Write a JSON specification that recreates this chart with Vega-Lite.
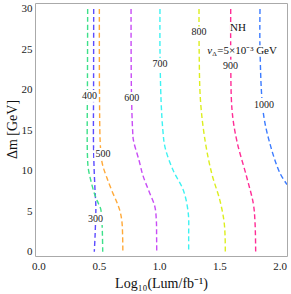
{
  "$schema": "https://vega.github.io/schema/vega-lite/v6.json",
  "autosize": {"type": "none"},
  "padding": {"left": 35, "top": 3, "right": 4, "bottom": 38},
  "width": 252,
  "height": 253,
  "background": "white",
  "view": {"stroke": "#aaaaaa", "strokeWidth": 1},
  "datasets": {
    "contours": [
      {"mass": 300, "dm": 30, "lum": 0.458}, {"mass": 300, "dm": 20, "lum": 0.457}, {"mass": 300, "dm": 13.8, "lum": 0.456}, {"mass": 300, "dm": 10.5, "lum": 0.461}, {"mass": 300, "dm": 7.6, "lum": 0.469}, {"mass": 300, "dm": 5.5, "lum": 0.476}, {"mass": 300, "dm": 3.5, "lum": 0.473}, {"mass": 300, "dm": 1.8, "lum": 0.469}, {"mass": 300, "dm": 0, "lum": 0.463},
      {"mass": 400, "dm": 30, "lum": 0.408}, {"mass": 400, "dm": 20, "lum": 0.406}, {"mass": 400, "dm": 14, "lum": 0.404}, {"mass": 400, "dm": 12, "lum": 0.406}, {"mass": 400, "dm": 10.3, "lum": 0.413}, {"mass": 400, "dm": 8.4, "lum": 0.441}, {"mass": 400, "dm": 7, "lum": 0.468}, {"mass": 400, "dm": 6, "lum": 0.496}, {"mass": 400, "dm": 5.3, "lum": 0.516}, {"mass": 400, "dm": 4, "lum": 0.525}, {"mass": 400, "dm": 2.9, "lum": 0.529}, {"mass": 400, "dm": 0, "lum": 0.533},
      {"mass": 500, "dm": 30, "lum": 0.505}, {"mass": 500, "dm": 20, "lum": 0.506}, {"mass": 500, "dm": 13.5, "lum": 0.512}, {"mass": 500, "dm": 11.3, "lum": 0.524}, {"mass": 500, "dm": 10.4, "lum": 0.538}, {"mass": 500, "dm": 9.2, "lum": 0.566}, {"mass": 500, "dm": 7.6, "lum": 0.607}, {"mass": 500, "dm": 5.9, "lum": 0.656}, {"mass": 500, "dm": 4.8, "lum": 0.68}, {"mass": 500, "dm": 3.6, "lum": 0.693}, {"mass": 500, "dm": 2, "lum": 0.698}, {"mass": 500, "dm": 0, "lum": 0.7},
      {"mass": 600, "dm": 30, "lum": 0.768}, {"mass": 600, "dm": 20, "lum": 0.771}, {"mass": 600, "dm": 15, "lum": 0.781}, {"mass": 600, "dm": 13.75, "lum": 0.788}, {"mass": 600, "dm": 11.3, "lum": 0.834}, {"mass": 600, "dm": 9.4, "lum": 0.867}, {"mass": 600, "dm": 7.6, "lum": 0.913}, {"mass": 600, "dm": 5.6, "lum": 0.965}, {"mass": 600, "dm": 3.8, "lum": 0.978}, {"mass": 600, "dm": 2, "lum": 0.98}, {"mass": 600, "dm": 0, "lum": 0.981},
      {"mass": 700, "dm": 30, "lum": 1.008}, {"mass": 700, "dm": 25, "lum": 1.008}, {"mass": 700, "dm": 18.7, "lum": 1.017}, {"mass": 700, "dm": 15, "lum": 1.032}, {"mass": 700, "dm": 12.9, "lum": 1.05}, {"mass": 700, "dm": 10, "lum": 1.119}, {"mass": 700, "dm": 7.6, "lum": 1.202}, {"mass": 700, "dm": 4.7, "lum": 1.243}, {"mass": 700, "dm": 2, "lum": 1.246}, {"mass": 700, "dm": 0, "lum": 1.246},
      {"mass": 800, "dm": 30, "lum": 1.332}, {"mass": 800, "dm": 25, "lum": 1.333}, {"mass": 800, "dm": 18.7, "lum": 1.344}, {"mass": 800, "dm": 13.75, "lum": 1.382}, {"mass": 800, "dm": 9.7, "lum": 1.437}, {"mass": 800, "dm": 6.3, "lum": 1.506}, {"mass": 800, "dm": 3.8, "lum": 1.539}, {"mass": 800, "dm": 2, "lum": 1.548}, {"mass": 800, "dm": 0, "lum": 1.55},
      {"mass": 900, "dm": 30, "lum": 1.595}, {"mass": 900, "dm": 25, "lum": 1.595}, {"mass": 900, "dm": 17.5, "lum": 1.606}, {"mass": 900, "dm": 13.75, "lum": 1.645}, {"mass": 900, "dm": 9.2, "lum": 1.728}, {"mass": 900, "dm": 5.9, "lum": 1.783}, {"mass": 900, "dm": 3.5, "lum": 1.797}, {"mass": 900, "dm": 0, "lum": 1.802},
      {"mass": 1000, "dm": 30, "lum": 1.838}, {"mass": 1000, "dm": 25, "lum": 1.838}, {"mass": 1000, "dm": 17.1, "lum": 1.866}, {"mass": 1000, "dm": 12.9, "lum": 1.929}, {"mass": 1000, "dm": 9.7, "lum": 2.004}, {"mass": 1000, "dm": 8.3, "lum": 2.062}
    ],
    "labels": [
      {"mass": 300, "lum": 0.473, "dm": 4.04},
      {"mass": 400, "lum": 0.423, "dm": 19.25},
      {"mass": 500, "lum": 0.535, "dm": 12.08},
      {"mass": 600, "lum": 0.773, "dm": 19.0},
      {"mass": 700, "lum": 1.008, "dm": 23.2},
      {"mass": 800, "lum": 1.332, "dm": 27.1},
      {"mass": 900, "lum": 1.593, "dm": 23.0},
      {"mass": 1000, "lum": 1.871, "dm": 18.1}
    ],
    "notes": [
      {"t": "NH", "lum": 1.655, "dm": 27.65},
      {"t": "v", "lum": 1.4, "dm": 24.85}
    ]
  },
  "layer": [
    {
      "data": {"name": "contours"},
      "mark": {"type": "line", "strokeDash": [5, 3], "strokeWidth": 1.4, "clip": true, "interpolate": "catmull-rom"},
      "encoding": {
        "x": {"field": "lum", "type": "quantitative", "scale": {"domain": [-0.029, 2.062], "nice": false, "zero": false},
          "axis": {"orient": "bottom", "values": [0, 0.1, 0.2, 0.3, 0.4, 0.5, 0.6, 0.7, 0.8, 0.9, 1, 1.1, 1.2, 1.3, 1.4, 1.5, 1.6, 1.7, 1.8, 1.9, 2],
            "domain": false, "grid": false, "ticks": true, "tickSize": 0, "tickColor": "#999999", "tickWidth": 0.8,
            "labelExpr": "abs(round(datum.value*2)-datum.value*2)<0.001 ? format(datum.value,'.1f') : ''",
            "labelFont": "Liberation Serif", "labelFontSize": 11, "labelColor": "#222222", "labelPadding": 4, "labelOverlap": false, "labelFlush": false,
            "title": "Log₁₀(Lum/fb⁻¹)", "titleFont": "Liberation Serif", "titleFontSize": 14, "titleFontWeight": "normal", "titleColor": "#111111",
            "titleX": 126, "titleY": 20, "titleBaseline": "top",
            "encode": {"ticks": {"update": {"y2": {"signal": "abs(round(datum.value*2)-datum.value*2)<0.001 ? -5 : -2.5"}}}}}},
        "y": {"field": "dm", "type": "quantitative", "scale": {"domain": [-0.53, 30.74], "nice": false, "zero": false},
          "axis": {"orient": "left", "values": [0, 1, 2, 3, 4, 5, 6, 7, 8, 9, 10, 11, 12, 13, 14, 15, 16, 17, 18, 19, 20, 21, 22, 23, 24, 25, 26, 27, 28, 29, 30],
            "domain": false, "grid": false, "ticks": true, "tickSize": 0, "tickColor": "#999999", "tickWidth": 0.8,
            "labelExpr": "abs(round(datum.value/5)*5-datum.value)<0.001 ? format(datum.value,'d') : ''",
            "labelFont": "Liberation Serif", "labelFontSize": 11, "labelColor": "#222222", "labelPadding": 3, "labelOverlap": false, "labelFlush": false,
            "title": "Δm [GeV]", "titleFont": "Liberation Serif", "titleFontSize": 14, "titleFontWeight": "normal", "titleColor": "#111111",
            "titleX": -23, "titleY": 126, "titleBaseline": "middle", "titleAngle": 270,
            "encode": {"ticks": {"update": {"x2": {"signal": "abs(round(datum.value/5)*5-datum.value)<0.001 ? 5 : 2.5"}}}}}},
        "color": {"field": "mass", "type": "nominal", "legend": null,
          "scale": {"domain": [300, 400, 500, 600, 700, 800, 900, 1000], "range": ["#5b4bff", "#3de08a", "#ffa938", "#c84cf5", "#3ef2f2", "#dcee1e", "#ff2d96", "#3b7bff"]}},
        "detail": {"field": "mass", "type": "nominal"},
        "order": {"field": "dm", "type": "quantitative", "sort": "descending"}
      }
    },
    {
      "data": {"name": "labels"},
      "mark": {"type": "point", "shape": "M-1,-0.7H1V0.7H-1Z", "filled": true, "fill": "white", "stroke": null, "opacity": 1},
      "encoding": {
        "x": {"field": "lum", "type": "quantitative",
          "axis": {"orient": "top", "values": [0, 0.1, 0.2, 0.3, 0.4, 0.5, 0.6, 0.7, 0.8, 0.9, 1, 1.1, 1.2, 1.3, 1.4, 1.5, 1.6, 1.7, 1.8, 1.9, 2],
            "domain": false, "grid": false, "labels": false, "title": null, "ticks": true, "tickSize": 0, "tickColor": "#999999", "tickWidth": 0.8,
            "encode": {"ticks": {"update": {"y2": {"signal": "abs(round(datum.value*2)-datum.value*2)<0.001 ? 5 : 2.5"}}}}}},
        "y": {"field": "dm", "type": "quantitative",
          "axis": {"orient": "right", "values": [0, 1, 2, 3, 4, 5, 6, 7, 8, 9, 10, 11, 12, 13, 14, 15, 16, 17, 18, 19, 20, 21, 22, 23, 24, 25, 26, 27, 28, 29, 30],
            "domain": false, "grid": false, "labels": false, "title": null, "ticks": true, "tickSize": 0, "tickColor": "#999999", "tickWidth": 0.8,
            "encode": {"ticks": {"update": {"x2": {"signal": "abs(round(datum.value/5)*5-datum.value)<0.001 ? -5 : -2.5"}}}}}},
        "size": {"condition": {"test": "datum.mass == 1000", "value": 440}, "value": 289}
      }
    },
    {
      "data": {"name": "notes"},
      "transform": [{"filter": "datum.t == 'NH'"}],
      "mark": {"type": "point", "shape": "M-1,-0.65H1V0.65H-1Z", "filled": true, "fill": "white", "stroke": null, "opacity": 1, "size": 256},
      "encoding": {
        "x": {"field": "lum", "type": "quantitative", "axis": null},
        "y": {"field": "dm", "type": "quantitative", "axis": null}
      }
    },
    {
      "data": {"name": "notes"},
      "transform": [{"filter": "datum.t == 'v'"}],
      "mark": {"type": "point", "shape": "M0,-0.15H2V0.15H0Z", "filled": true, "fill": "white", "stroke": null, "opacity": 1, "size": 5184},
      "encoding": {
        "x": {"field": "lum", "type": "quantitative", "axis": null},
        "y": {"field": "dm", "type": "quantitative", "axis": null}
      }
    },
    {
      "data": {"name": "labels"},
      "mark": {"type": "text", "font": "Liberation Serif", "fontSize": 10, "color": "#222222", "align": "center", "baseline": "middle"},
      "encoding": {
        "x": {"field": "lum", "type": "quantitative", "axis": null},
        "y": {"field": "dm", "type": "quantitative", "axis": null},
        "text": {"field": "mass", "type": "nominal"}
      }
    },
    {
      "data": {"name": "notes"},
      "transform": [{"filter": "datum.t == 'NH'"}],
      "mark": {"type": "text", "font": "Liberation Serif", "fontSize": 11, "color": "#111111", "align": "center", "baseline": "middle"},
      "encoding": {
        "x": {"field": "lum", "type": "quantitative", "axis": null},
        "y": {"field": "dm", "type": "quantitative", "axis": null},
        "text": {"field": "t", "type": "nominal"}
      }
    },
    {
      "data": {"name": "notes"},
      "transform": [{"filter": "datum.t == 'v'"}],
      "mark": {"type": "text", "font": "Liberation Serif", "fontSize": 11, "fontStyle": "italic", "color": "#111111", "align": "left", "baseline": "middle"},
      "encoding": {
        "x": {"field": "lum", "type": "quantitative", "axis": null},
        "y": {"field": "dm", "type": "quantitative", "axis": null},
        "text": {"value": "v"}
      }
    },
    {
      "data": {"name": "notes"},
      "transform": [{"filter": "datum.t == 'v'"}],
      "mark": {"type": "text", "font": "Liberation Serif", "fontSize": 7, "color": "#111111", "align": "left", "baseline": "middle", "dx": 5, "dy": 3},
      "encoding": {
        "x": {"field": "lum", "type": "quantitative", "axis": null},
        "y": {"field": "dm", "type": "quantitative", "axis": null},
        "text": {"value": "Δ"}
      }
    },
    {
      "data": {"name": "notes"},
      "transform": [{"filter": "datum.t == 'v'"}],
      "mark": {"type": "text", "font": "Liberation Serif", "fontSize": 11, "color": "#111111", "align": "left", "baseline": "middle", "dx": 10},
      "encoding": {
        "x": {"field": "lum", "type": "quantitative", "axis": null},
        "y": {"field": "dm", "type": "quantitative", "axis": null},
        "text": {"value": "=5×10⁻³ GeV"}
      }
    }
  ],
  "resolve": {"axis": {"x": "independent", "y": "independent"}}
}
